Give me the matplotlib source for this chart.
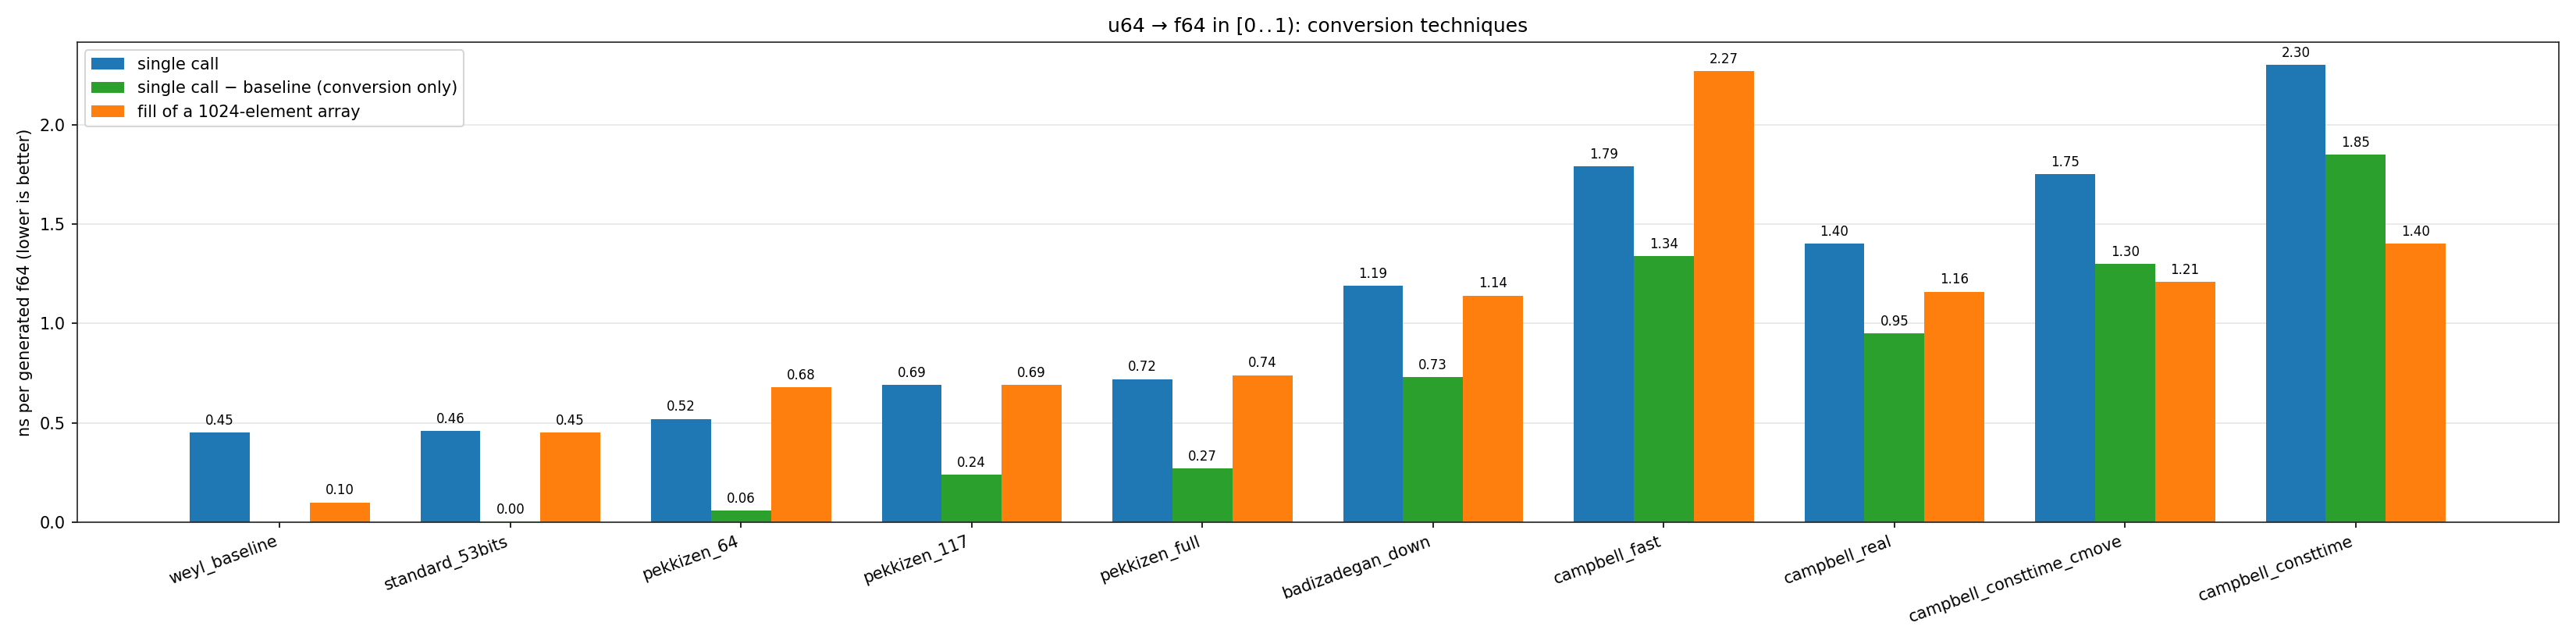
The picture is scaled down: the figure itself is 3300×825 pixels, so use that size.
import numpy as np
import matplotlib
matplotlib.use("Agg")
import matplotlib.pyplot as plt

# benchmark results (ns per generated f64)
methods = ['weyl_baseline', 'standard_53bits', 'pekkizen_64', 'pekkizen_117', 'pekkizen_full',
           'badizadegan_down', 'campbell_fast', 'campbell_real', 'campbell_consttime_cmove',
           'campbell_consttime']
single_call = [0.45, 0.46, 0.52, 0.69, 0.72, 1.19, 1.79, 1.40, 1.75, 2.30]
conversion_only = [np.nan, 0.004, 0.06, 0.24, 0.27, 0.73, 1.34, 0.95, 1.30, 1.85]
array_fill = [0.10, 0.45, 0.68, 0.69, 0.74, 1.14, 2.27, 1.16, 1.21, 1.40]

x = np.arange(len(methods))
w = 0.26

fig, ax = plt.subplots(figsize=(22, 5.5), dpi=150)

series = [
    (single_call, 'single call', '#1f77b4', -w),
    (conversion_only, 'single call \u2212 baseline (conversion only)', '#2ca02c', 0),
    (array_fill, 'fill of a 1024-element array', '#ff7f0e', w),
]
for vals, label, color, off in series:
    bars = ax.bar(x + off, vals, w, label=label, color=color)
    for b, v in zip(bars, vals):
        if np.isnan(v):
            continue
        ax.annotate(f'{v:.2f}', (b.get_x() + b.get_width() / 2, b.get_height()),
                    xytext=(0, 3), textcoords='offset points',
                    ha='center', va='bottom', fontsize=8)

ax.set_xticks(x)
ax.set_xticklabels(methods, rotation=20, ha='right')
ax.set_ylabel('ns per generated f64 (lower is better)')
ax.set_title('u64 \u2192 f64 in [0\u200a.\u200a.\u200a1): conversion techniques')
ax.grid(axis='y', color='#e6e6e6')
ax.set_axisbelow(True)
for s in ax.spines.values():
    s.set_color('#222222')
ax.legend(loc='upper left')

plt.tight_layout()
plt.savefig('out.png')
